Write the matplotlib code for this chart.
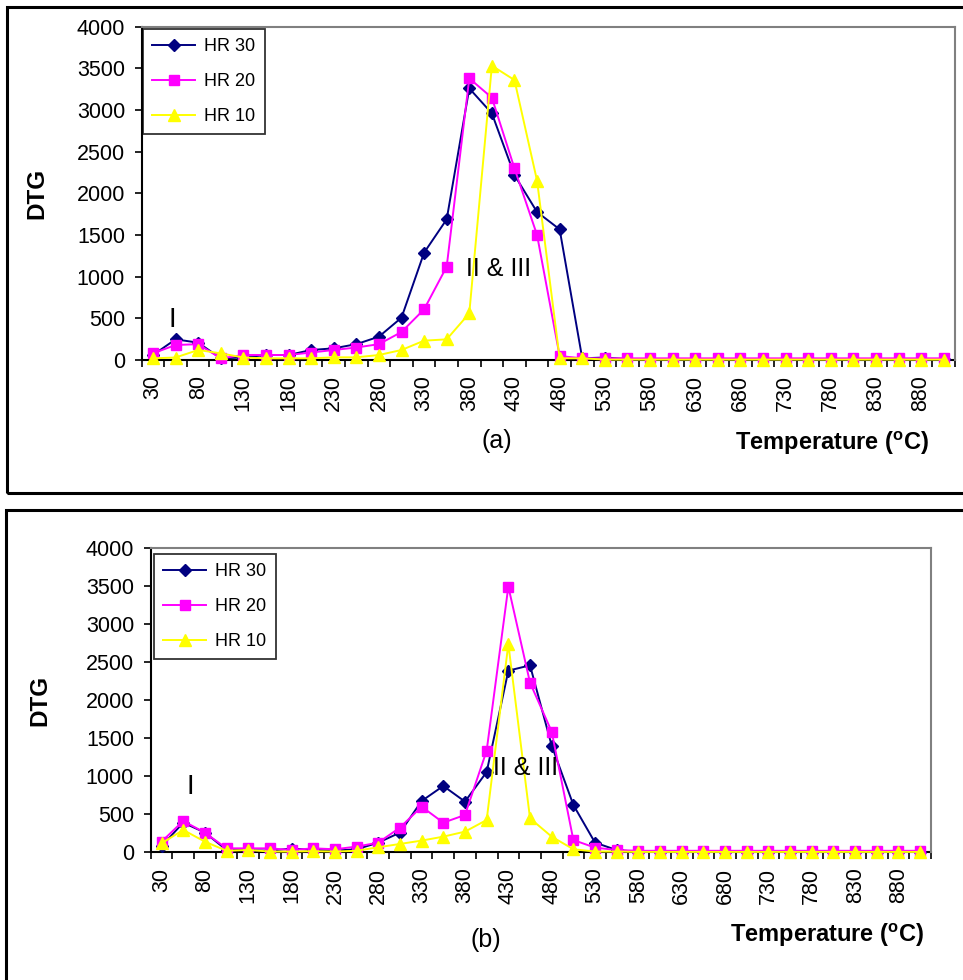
import matplotlib
matplotlib.use("Agg")
import matplotlib.pyplot as plt
from matplotlib.patches import Rectangle
import numpy as np

plt.rcParams['font.family'] = ['Liberation Sans', 'DejaVu Sans']
plt.rcParams['mathtext.default'] = 'regular'

temps = list(range(30, 906, 25))  # 36 categories

# Panel (a)
a_hr30 = [60, 248, 208, 20, 30, 60, 60, 120, 140, 190, 280, 508, 1288, 1688, 3260, 2960,
          2220, 1776, 1568, 20, 30, 10, 10, 10, 10, 10, 10, 10, 10, 10, 10, 10, 10, 10, 10, 10]
a_hr20 = [80, 180, 190, 20, 60, 60, 60, 90, 120, 150, 190, 336, 608, 1120, 3380, 3148,
          2300, 1500, 48, 20, 20, 20, 20, 20, 20, 20, 20, 20, 20, 20, 20, 20, 20, 20, 20, 20]
a_hr10 = [20, 30, 120, 80, 30, 20, 20, 20, 32, 32, 60, 120, 232, 248, 560, 3532,
          3360, 2152, 20, 20, 5, 5, 5, 5, 5, 5, 5, 5, 5, 5, 5, 5, 5, 5, 5, 5]

# Panel (b)
b_hr30 = [80, 390, 260, 30, 30, 20, 50, 30, 22, 40, 127, 259, 675, 873, 667, 1057,
          2390, 2460, 1404, 623, 127, 30, 5, 5, 5, 5, 5, 5, 5, 5, 5, 5, 5, 5, 5, 5]
b_hr20 = [140, 412, 258, 52, 52, 52, 30, 52, 40, 75, 127, 325, 600, 390, 491, 1338,
          3496, 2232, 1588, 162, 61, 30, 20, 20, 20, 20, 20, 20, 20, 20, 20, 20, 20, 20, 20, 20]
b_hr10 = [118, 294, 140, 20, 30, 10, 10, 15, 10, 20, 66, 110, 154, 206, 272, 425,
          2741, 447, 206, 40, 10, 10, 5, 5, 5, 5, 5, 5, 5, 5, 5, 5, 5, 5, 5, 5]

series_names = ['HR 30', 'HR 20', 'HR 10']
colors = ['#000080', '#FF00FF', '#FFFF00']
markers = ['D', 's', '^']
msizes = [6.5, 7.5, 9]

W, H = 963, 980
fig = plt.figure(figsize=(W / 100, H / 100), dpi=100)


def px_axes(l, t, r, b):
    return fig.add_axes([l / W, 1 - b / H, (r - l) / W, (b - t) / H])


def draw_panel(ax, data, legend_box, label_I, label_II, panel_lbl, temp_lbl, dtg_pos):
    x = np.arange(len(temps))
    for vals, name, c, m, ms in zip(data, series_names, colors, markers, msizes):
        ax.plot(x, vals, color=c, marker=m, markersize=ms, lw=1.4, label=name,
                markeredgecolor=c, clip_on=False)
    ax.set_xlim(-0.5, len(temps) - 0.5)
    ax.set_ylim(0, 4000)
    ax.set_yticks(np.arange(0, 4001, 500))
    ax.tick_params(axis='y', direction='out', length=5, width=1.2, labelsize=15.5, pad=7)
    ax.set_xticks(np.arange(-0.5, len(temps), 1.0))
    ax.set_xticklabels([])
    ax.tick_params(axis='x', which='major', direction='out', length=5, width=1.2)
    ax.set_xticks(x[::2], minor=True)
    ax.set_xticklabels([str(t) for t in temps[::2]], minor=True, rotation=90, fontsize=15.5)
    ax.tick_params(axis='x', which='minor', length=0, pad=11)
    for s in ['left', 'bottom']:
        ax.spines[s].set_color('black')
        ax.spines[s].set_linewidth(1.5)
    for s in ['top', 'right']:
        ax.spines[s].set_color('#808080')
        ax.spines[s].set_linewidth(1.5)
    ax.spines['bottom'].set_zorder(0.5)
    l, t = legend_box
    leg = ax.legend(loc='upper left', bbox_to_anchor=(l / W, 1 - t / H),
                    bbox_transform=fig.transFigure, fontsize=13, frameon=True,
                    fancybox=False, edgecolor='black', handlelength=2.4,
                    borderpad=0.5, labelspacing=1.0, handletextpad=0.5,
                    borderaxespad=0)
    leg.get_frame().set_linewidth(1.3)
    fig.text(dtg_pos[0] / W, 1 - dtg_pos[1] / H, 'DTG', rotation=90, fontsize=17.5,
             fontweight='bold', ha='center', va='center')
    fig.text(label_I[0] / W, 1 - label_I[1] / H, 'I', fontsize=20, ha='center', va='center')
    fig.text(label_II[0] / W, 1 - label_II[1] / H, 'II & III', fontsize=18,
             ha='center', va='center')
    fig.text(panel_lbl[0] / W, 1 - panel_lbl[1] / H, panel_lbl[2], fontsize=18,
             ha='center', va='center')
    fig.text(temp_lbl[0] / W, 1 - temp_lbl[1] / H, r'Temperature ($\mathregular{^o}$C)',
             fontsize=17, fontweight='bold', ha='center', va='center')


ax1 = px_axes(141.7, 26.7, 955, 360)
draw_panel(ax1, [a_hr30, a_hr20, a_hr10], (143, 29), (172, 320), (499, 269),
           (497, 441, '(a)'), (832, 443), (37, 193))

ax2 = px_axes(150.7, 548.3, 931, 852.3)
draw_panel(ax2, [b_hr30, b_hr20, b_hr10], (154, 554), (190, 787), (526, 768),
           (486, 940, '(b)'), (827, 935), (40, 700))

# outer frames
fig.patches.append(Rectangle((7 / W, 1 - 493 / H), (W + 20 - 7) / W, (493 - 7) / H,
                             transform=fig.transFigure, fill=False, lw=2.2,
                             edgecolor='black'))
fig.patches.append(Rectangle((6 / W, -0.05), (W + 20) / W, 1 - 510 / H + 0.05,
                             transform=fig.transFigure, fill=False, lw=2.2,
                             edgecolor='black'))

fig.savefig('out.png', dpi=100)
